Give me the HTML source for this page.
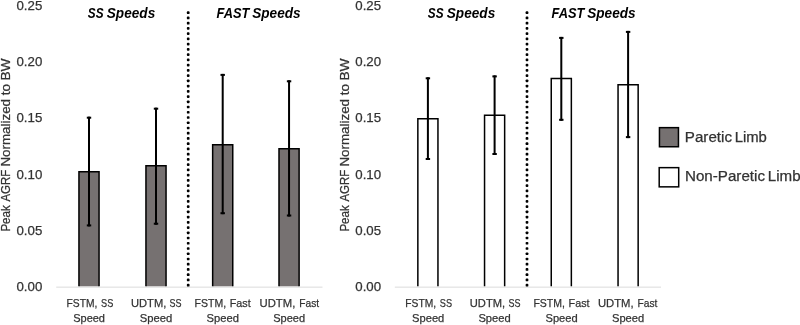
<!DOCTYPE html>
<html><head><meta charset="utf-8"><title>Peak AGRF chart</title>
<style>
html,body{margin:0;padding:0;background:#fff;}
body{width:800px;height:325px;overflow:hidden;}
svg{display:block;font-family:"Liberation Sans", sans-serif;}
text{-webkit-font-smoothing:antialiased;}
svg{will-change:transform;}
.t{fill:#333333;stroke:#333333;stroke-width:0.25px;}
</style></head>
<body>
<svg width="800" height="325" viewBox="0 0 800 325">
<rect width="800" height="325" fill="#fff"/>
<text x="42.3" y="9.6" text-anchor="end" font-size="13" class="t" textLength="25.8" lengthAdjust="spacingAndGlyphs">0.25</text>
<text x="42.3" y="66.0" text-anchor="end" font-size="13" class="t" textLength="25.8" lengthAdjust="spacingAndGlyphs">0.20</text>
<text x="42.3" y="122.2" text-anchor="end" font-size="13" class="t" textLength="25.8" lengthAdjust="spacingAndGlyphs">0.15</text>
<text x="42.3" y="178.6" text-anchor="end" font-size="13" class="t" textLength="25.8" lengthAdjust="spacingAndGlyphs">0.10</text>
<text x="42.3" y="234.9" text-anchor="end" font-size="13" class="t" textLength="25.8" lengthAdjust="spacingAndGlyphs">0.05</text>
<text x="42.3" y="291.3" text-anchor="end" font-size="13" class="t" textLength="25.8" lengthAdjust="spacingAndGlyphs">0.00</text>
<g transform="translate(10.3,0) rotate(-90)" font-size="12.7" class="t">
<text x="-231.60" y="0" textLength="26.30" lengthAdjust="spacingAndGlyphs">Peak</text>
<text x="-201.60" y="0" textLength="31.80" lengthAdjust="spacingAndGlyphs">AGRF</text>
<text x="-166.60" y="0" textLength="67.60" lengthAdjust="spacingAndGlyphs">Normalized</text>
<text x="-95.20" y="0" textLength="11.30" lengthAdjust="spacingAndGlyphs">to</text>
<text x="-80.60" y="0" textLength="22.20" lengthAdjust="spacingAndGlyphs">BW</text>
</g>
<rect x="78.95" y="171.85" width="20.10" height="114.65" fill="#767171"/>
<path d="M78.95 286.5V171.85H99.05V286.5" fill="none" stroke="#000" stroke-width="1.5"/>
<rect x="145.95" y="165.85" width="20.10" height="120.65" fill="#767171"/>
<path d="M145.95 286.5V165.85H166.05V286.5" fill="none" stroke="#000" stroke-width="1.5"/>
<rect x="212.65" y="144.65" width="20.10" height="141.85" fill="#767171"/>
<path d="M212.65 286.5V144.65H232.75V286.5" fill="none" stroke="#000" stroke-width="1.5"/>
<rect x="279.00" y="148.85" width="20.10" height="137.65" fill="#767171"/>
<path d="M279.00 286.5V148.85H299.10V286.5" fill="none" stroke="#000" stroke-width="1.5"/>
<rect x="56.2" y="286.5" width="266.30" height="1.4" fill="#e6e6e6"/>
<rect x="88.00" y="116.70" width="2" height="109.70" fill="#000"/>
<rect x="86.80" y="116.70" width="4.4" height="2" fill="#000"/>
<rect x="86.80" y="224.40" width="4.4" height="2" fill="#000"/>
<rect x="155.00" y="107.70" width="2" height="117.00" fill="#000"/>
<rect x="153.80" y="107.70" width="4.4" height="2" fill="#000"/>
<rect x="153.80" y="222.70" width="4.4" height="2" fill="#000"/>
<rect x="221.70" y="73.90" width="2" height="140.30" fill="#000"/>
<rect x="220.50" y="73.90" width="4.4" height="2" fill="#000"/>
<rect x="220.50" y="212.20" width="4.4" height="2" fill="#000"/>
<rect x="288.05" y="80.30" width="2" height="136.20" fill="#000"/>
<rect x="286.85" y="80.30" width="4.4" height="2" fill="#000"/>
<rect x="286.85" y="214.50" width="4.4" height="2" fill="#000"/>
<rect x="186.85" y="11.35" width="2.7" height="2.7" rx="0.9" fill="#000"/>
<rect x="186.85" y="16.59" width="2.7" height="2.7" rx="0.9" fill="#000"/>
<rect x="186.85" y="21.83" width="2.7" height="2.7" rx="0.9" fill="#000"/>
<rect x="186.85" y="27.07" width="2.7" height="2.7" rx="0.9" fill="#000"/>
<rect x="186.85" y="32.31" width="2.7" height="2.7" rx="0.9" fill="#000"/>
<rect x="186.85" y="37.55" width="2.7" height="2.7" rx="0.9" fill="#000"/>
<rect x="186.85" y="42.79" width="2.7" height="2.7" rx="0.9" fill="#000"/>
<rect x="186.85" y="48.03" width="2.7" height="2.7" rx="0.9" fill="#000"/>
<rect x="186.85" y="53.27" width="2.7" height="2.7" rx="0.9" fill="#000"/>
<rect x="186.85" y="58.51" width="2.7" height="2.7" rx="0.9" fill="#000"/>
<rect x="186.85" y="63.75" width="2.7" height="2.7" rx="0.9" fill="#000"/>
<rect x="186.85" y="68.99" width="2.7" height="2.7" rx="0.9" fill="#000"/>
<rect x="186.85" y="74.23" width="2.7" height="2.7" rx="0.9" fill="#000"/>
<rect x="186.85" y="79.47" width="2.7" height="2.7" rx="0.9" fill="#000"/>
<rect x="186.85" y="84.71" width="2.7" height="2.7" rx="0.9" fill="#000"/>
<rect x="186.85" y="89.95" width="2.7" height="2.7" rx="0.9" fill="#000"/>
<rect x="186.85" y="95.19" width="2.7" height="2.7" rx="0.9" fill="#000"/>
<rect x="186.85" y="100.43" width="2.7" height="2.7" rx="0.9" fill="#000"/>
<rect x="186.85" y="105.67" width="2.7" height="2.7" rx="0.9" fill="#000"/>
<rect x="186.85" y="110.91" width="2.7" height="2.7" rx="0.9" fill="#000"/>
<rect x="186.85" y="116.15" width="2.7" height="2.7" rx="0.9" fill="#000"/>
<rect x="186.85" y="121.39" width="2.7" height="2.7" rx="0.9" fill="#000"/>
<rect x="186.85" y="126.63" width="2.7" height="2.7" rx="0.9" fill="#000"/>
<rect x="186.85" y="131.87" width="2.7" height="2.7" rx="0.9" fill="#000"/>
<rect x="186.85" y="137.11" width="2.7" height="2.7" rx="0.9" fill="#000"/>
<rect x="186.85" y="142.35" width="2.7" height="2.7" rx="0.9" fill="#000"/>
<rect x="186.85" y="147.59" width="2.7" height="2.7" rx="0.9" fill="#000"/>
<rect x="186.85" y="152.83" width="2.7" height="2.7" rx="0.9" fill="#000"/>
<rect x="186.85" y="158.07" width="2.7" height="2.7" rx="0.9" fill="#000"/>
<rect x="186.85" y="163.31" width="2.7" height="2.7" rx="0.9" fill="#000"/>
<rect x="186.85" y="168.55" width="2.7" height="2.7" rx="0.9" fill="#000"/>
<rect x="186.85" y="173.79" width="2.7" height="2.7" rx="0.9" fill="#000"/>
<rect x="186.85" y="179.03" width="2.7" height="2.7" rx="0.9" fill="#000"/>
<rect x="186.85" y="184.27" width="2.7" height="2.7" rx="0.9" fill="#000"/>
<rect x="186.85" y="189.51" width="2.7" height="2.7" rx="0.9" fill="#000"/>
<rect x="186.85" y="194.75" width="2.7" height="2.7" rx="0.9" fill="#000"/>
<rect x="186.85" y="199.99" width="2.7" height="2.7" rx="0.9" fill="#000"/>
<rect x="186.85" y="205.23" width="2.7" height="2.7" rx="0.9" fill="#000"/>
<rect x="186.85" y="210.47" width="2.7" height="2.7" rx="0.9" fill="#000"/>
<rect x="186.85" y="215.71" width="2.7" height="2.7" rx="0.9" fill="#000"/>
<rect x="186.85" y="220.95" width="2.7" height="2.7" rx="0.9" fill="#000"/>
<rect x="186.85" y="226.19" width="2.7" height="2.7" rx="0.9" fill="#000"/>
<rect x="186.85" y="231.43" width="2.7" height="2.7" rx="0.9" fill="#000"/>
<rect x="186.85" y="236.67" width="2.7" height="2.7" rx="0.9" fill="#000"/>
<rect x="186.85" y="241.91" width="2.7" height="2.7" rx="0.9" fill="#000"/>
<rect x="186.85" y="247.15" width="2.7" height="2.7" rx="0.9" fill="#000"/>
<rect x="186.85" y="252.39" width="2.7" height="2.7" rx="0.9" fill="#000"/>
<rect x="186.85" y="257.63" width="2.7" height="2.7" rx="0.9" fill="#000"/>
<rect x="186.85" y="262.87" width="2.7" height="2.7" rx="0.9" fill="#000"/>
<rect x="186.85" y="268.11" width="2.7" height="2.7" rx="0.9" fill="#000"/>
<rect x="186.85" y="273.35" width="2.7" height="2.7" rx="0.9" fill="#000"/>
<rect x="186.85" y="278.59" width="2.7" height="2.7" rx="0.9" fill="#000"/>
<rect x="186.85" y="283.83" width="2.7" height="2.7" rx="0.9" fill="#000"/>
<text x="87.80" y="18.1" font-size="15" font-weight="bold" font-style="italic" fill="#000" textLength="15.70" lengthAdjust="spacingAndGlyphs">SS</text>
<text x="106.80" y="18.1" font-size="15" font-weight="bold" font-style="italic" fill="#000" textLength="48.40" lengthAdjust="spacingAndGlyphs">Speeds</text>
<text x="216.60" y="18.1" font-size="15" font-weight="bold" font-style="italic" fill="#000" textLength="32.80" lengthAdjust="spacingAndGlyphs">FAST</text>
<text x="252.20" y="18.1" font-size="15" font-weight="bold" font-style="italic" fill="#000" textLength="48.40" lengthAdjust="spacingAndGlyphs">Speeds</text>
<text x="82.00" y="307.2" text-anchor="middle" font-size="11.6" class="t" textLength="30.80" lengthAdjust="spacingAndGlyphs">FSTM,</text>
<text x="107.20" y="307.2" text-anchor="middle" font-size="11.6" class="t" textLength="12.20" lengthAdjust="spacingAndGlyphs">SS</text>
<text x="89.10" y="322.2" text-anchor="middle" font-size="11.6" class="t" textLength="31.80" lengthAdjust="spacingAndGlyphs">Speed</text>
<text x="148.65" y="307.2" text-anchor="middle" font-size="11.6" class="t" textLength="35.30" lengthAdjust="spacingAndGlyphs">UDTM,</text>
<text x="175.60" y="307.2" text-anchor="middle" font-size="11.6" class="t" textLength="12.00" lengthAdjust="spacingAndGlyphs">SS</text>
<text x="155.95" y="322.2" text-anchor="middle" font-size="11.6" class="t" textLength="32.50" lengthAdjust="spacingAndGlyphs">Speed</text>
<text x="210.32" y="307.2" text-anchor="middle" font-size="11.6" class="t" textLength="31.45" lengthAdjust="spacingAndGlyphs">FSTM,</text>
<text x="240.22" y="307.2" text-anchor="middle" font-size="11.6" class="t" textLength="20.95" lengthAdjust="spacingAndGlyphs">Fast</text>
<text x="222.80" y="322.2" text-anchor="middle" font-size="11.6" class="t" textLength="32.40" lengthAdjust="spacingAndGlyphs">Speed</text>
<text x="277.45" y="307.2" text-anchor="middle" font-size="11.6" class="t" textLength="35.70" lengthAdjust="spacingAndGlyphs">UDTM,</text>
<text x="309.18" y="307.2" text-anchor="middle" font-size="11.6" class="t" textLength="19.85" lengthAdjust="spacingAndGlyphs">Fast</text>
<text x="289.15" y="322.2" text-anchor="middle" font-size="11.6" class="t" textLength="31.90" lengthAdjust="spacingAndGlyphs">Speed</text>
<text x="381.1" y="9.6" text-anchor="end" font-size="13" class="t" textLength="25.8" lengthAdjust="spacingAndGlyphs">0.25</text>
<text x="381.1" y="66.0" text-anchor="end" font-size="13" class="t" textLength="25.8" lengthAdjust="spacingAndGlyphs">0.20</text>
<text x="381.1" y="122.2" text-anchor="end" font-size="13" class="t" textLength="25.8" lengthAdjust="spacingAndGlyphs">0.15</text>
<text x="381.1" y="178.6" text-anchor="end" font-size="13" class="t" textLength="25.8" lengthAdjust="spacingAndGlyphs">0.10</text>
<text x="381.1" y="234.9" text-anchor="end" font-size="13" class="t" textLength="25.8" lengthAdjust="spacingAndGlyphs">0.05</text>
<text x="381.1" y="291.3" text-anchor="end" font-size="13" class="t" textLength="25.8" lengthAdjust="spacingAndGlyphs">0.00</text>
<g transform="translate(349.1,0) rotate(-90)" font-size="12.7" class="t">
<text x="-231.60" y="0" textLength="26.30" lengthAdjust="spacingAndGlyphs">Peak</text>
<text x="-201.60" y="0" textLength="31.80" lengthAdjust="spacingAndGlyphs">AGRF</text>
<text x="-166.60" y="0" textLength="67.60" lengthAdjust="spacingAndGlyphs">Normalized</text>
<text x="-95.20" y="0" textLength="11.30" lengthAdjust="spacingAndGlyphs">to</text>
<text x="-80.60" y="0" textLength="22.20" lengthAdjust="spacingAndGlyphs">BW</text>
</g>
<rect x="417.85" y="118.75" width="20.10" height="167.75" fill="#ffffff"/>
<path d="M417.85 286.5V118.75H437.95V286.5" fill="none" stroke="#000" stroke-width="1.5"/>
<rect x="484.55" y="115.25" width="20.10" height="171.25" fill="#ffffff"/>
<path d="M484.55 286.5V115.25H504.65V286.5" fill="none" stroke="#000" stroke-width="1.5"/>
<rect x="551.25" y="78.55" width="20.10" height="207.95" fill="#ffffff"/>
<path d="M551.25 286.5V78.55H571.35V286.5" fill="none" stroke="#000" stroke-width="1.5"/>
<rect x="618.05" y="84.85" width="20.10" height="201.65" fill="#ffffff"/>
<path d="M618.05 286.5V84.85H638.15V286.5" fill="none" stroke="#000" stroke-width="1.5"/>
<rect x="394.8" y="286.5" width="266.20" height="1.4" fill="#e6e6e6"/>
<rect x="426.90" y="77.30" width="2" height="82.70" fill="#000"/>
<rect x="425.70" y="77.30" width="4.4" height="2" fill="#000"/>
<rect x="425.70" y="158.00" width="4.4" height="2" fill="#000"/>
<rect x="493.60" y="75.40" width="2" height="79.60" fill="#000"/>
<rect x="492.40" y="75.40" width="4.4" height="2" fill="#000"/>
<rect x="492.40" y="153.00" width="4.4" height="2" fill="#000"/>
<rect x="560.30" y="36.90" width="2" height="83.90" fill="#000"/>
<rect x="559.10" y="36.90" width="4.4" height="2" fill="#000"/>
<rect x="559.10" y="118.80" width="4.4" height="2" fill="#000"/>
<rect x="627.10" y="30.90" width="2" height="107.20" fill="#000"/>
<rect x="625.90" y="30.90" width="4.4" height="2" fill="#000"/>
<rect x="625.90" y="136.10" width="4.4" height="2" fill="#000"/>
<rect x="525.65" y="11.35" width="2.7" height="2.7" rx="0.9" fill="#000"/>
<rect x="525.65" y="16.59" width="2.7" height="2.7" rx="0.9" fill="#000"/>
<rect x="525.65" y="21.83" width="2.7" height="2.7" rx="0.9" fill="#000"/>
<rect x="525.65" y="27.07" width="2.7" height="2.7" rx="0.9" fill="#000"/>
<rect x="525.65" y="32.31" width="2.7" height="2.7" rx="0.9" fill="#000"/>
<rect x="525.65" y="37.55" width="2.7" height="2.7" rx="0.9" fill="#000"/>
<rect x="525.65" y="42.79" width="2.7" height="2.7" rx="0.9" fill="#000"/>
<rect x="525.65" y="48.03" width="2.7" height="2.7" rx="0.9" fill="#000"/>
<rect x="525.65" y="53.27" width="2.7" height="2.7" rx="0.9" fill="#000"/>
<rect x="525.65" y="58.51" width="2.7" height="2.7" rx="0.9" fill="#000"/>
<rect x="525.65" y="63.75" width="2.7" height="2.7" rx="0.9" fill="#000"/>
<rect x="525.65" y="68.99" width="2.7" height="2.7" rx="0.9" fill="#000"/>
<rect x="525.65" y="74.23" width="2.7" height="2.7" rx="0.9" fill="#000"/>
<rect x="525.65" y="79.47" width="2.7" height="2.7" rx="0.9" fill="#000"/>
<rect x="525.65" y="84.71" width="2.7" height="2.7" rx="0.9" fill="#000"/>
<rect x="525.65" y="89.95" width="2.7" height="2.7" rx="0.9" fill="#000"/>
<rect x="525.65" y="95.19" width="2.7" height="2.7" rx="0.9" fill="#000"/>
<rect x="525.65" y="100.43" width="2.7" height="2.7" rx="0.9" fill="#000"/>
<rect x="525.65" y="105.67" width="2.7" height="2.7" rx="0.9" fill="#000"/>
<rect x="525.65" y="110.91" width="2.7" height="2.7" rx="0.9" fill="#000"/>
<rect x="525.65" y="116.15" width="2.7" height="2.7" rx="0.9" fill="#000"/>
<rect x="525.65" y="121.39" width="2.7" height="2.7" rx="0.9" fill="#000"/>
<rect x="525.65" y="126.63" width="2.7" height="2.7" rx="0.9" fill="#000"/>
<rect x="525.65" y="131.87" width="2.7" height="2.7" rx="0.9" fill="#000"/>
<rect x="525.65" y="137.11" width="2.7" height="2.7" rx="0.9" fill="#000"/>
<rect x="525.65" y="142.35" width="2.7" height="2.7" rx="0.9" fill="#000"/>
<rect x="525.65" y="147.59" width="2.7" height="2.7" rx="0.9" fill="#000"/>
<rect x="525.65" y="152.83" width="2.7" height="2.7" rx="0.9" fill="#000"/>
<rect x="525.65" y="158.07" width="2.7" height="2.7" rx="0.9" fill="#000"/>
<rect x="525.65" y="163.31" width="2.7" height="2.7" rx="0.9" fill="#000"/>
<rect x="525.65" y="168.55" width="2.7" height="2.7" rx="0.9" fill="#000"/>
<rect x="525.65" y="173.79" width="2.7" height="2.7" rx="0.9" fill="#000"/>
<rect x="525.65" y="179.03" width="2.7" height="2.7" rx="0.9" fill="#000"/>
<rect x="525.65" y="184.27" width="2.7" height="2.7" rx="0.9" fill="#000"/>
<rect x="525.65" y="189.51" width="2.7" height="2.7" rx="0.9" fill="#000"/>
<rect x="525.65" y="194.75" width="2.7" height="2.7" rx="0.9" fill="#000"/>
<rect x="525.65" y="199.99" width="2.7" height="2.7" rx="0.9" fill="#000"/>
<rect x="525.65" y="205.23" width="2.7" height="2.7" rx="0.9" fill="#000"/>
<rect x="525.65" y="210.47" width="2.7" height="2.7" rx="0.9" fill="#000"/>
<rect x="525.65" y="215.71" width="2.7" height="2.7" rx="0.9" fill="#000"/>
<rect x="525.65" y="220.95" width="2.7" height="2.7" rx="0.9" fill="#000"/>
<rect x="525.65" y="226.19" width="2.7" height="2.7" rx="0.9" fill="#000"/>
<rect x="525.65" y="231.43" width="2.7" height="2.7" rx="0.9" fill="#000"/>
<rect x="525.65" y="236.67" width="2.7" height="2.7" rx="0.9" fill="#000"/>
<rect x="525.65" y="241.91" width="2.7" height="2.7" rx="0.9" fill="#000"/>
<rect x="525.65" y="247.15" width="2.7" height="2.7" rx="0.9" fill="#000"/>
<rect x="525.65" y="252.39" width="2.7" height="2.7" rx="0.9" fill="#000"/>
<rect x="525.65" y="257.63" width="2.7" height="2.7" rx="0.9" fill="#000"/>
<rect x="525.65" y="262.87" width="2.7" height="2.7" rx="0.9" fill="#000"/>
<rect x="525.65" y="268.11" width="2.7" height="2.7" rx="0.9" fill="#000"/>
<rect x="525.65" y="273.35" width="2.7" height="2.7" rx="0.9" fill="#000"/>
<rect x="525.65" y="278.59" width="2.7" height="2.7" rx="0.9" fill="#000"/>
<rect x="525.65" y="283.83" width="2.7" height="2.7" rx="0.9" fill="#000"/>
<text x="427.80" y="17.6" font-size="15" font-weight="bold" font-style="italic" fill="#000" textLength="15.70" lengthAdjust="spacingAndGlyphs">SS</text>
<text x="446.80" y="17.6" font-size="15" font-weight="bold" font-style="italic" fill="#000" textLength="48.40" lengthAdjust="spacingAndGlyphs">Speeds</text>
<text x="551.60" y="17.6" font-size="15" font-weight="bold" font-style="italic" fill="#000" textLength="32.80" lengthAdjust="spacingAndGlyphs">FAST</text>
<text x="587.20" y="17.6" font-size="15" font-weight="bold" font-style="italic" fill="#000" textLength="48.40" lengthAdjust="spacingAndGlyphs">Speeds</text>
<text x="420.70" y="307.2" text-anchor="middle" font-size="11.6" class="t" textLength="30.80" lengthAdjust="spacingAndGlyphs">FSTM,</text>
<text x="445.90" y="307.2" text-anchor="middle" font-size="11.6" class="t" textLength="12.20" lengthAdjust="spacingAndGlyphs">SS</text>
<text x="428.20" y="322.2" text-anchor="middle" font-size="11.6" class="t" textLength="32.20" lengthAdjust="spacingAndGlyphs">Speed</text>
<text x="487.45" y="307.2" text-anchor="middle" font-size="11.6" class="t" textLength="35.30" lengthAdjust="spacingAndGlyphs">UDTM,</text>
<text x="514.40" y="307.2" text-anchor="middle" font-size="11.6" class="t" textLength="12.00" lengthAdjust="spacingAndGlyphs">SS</text>
<text x="494.55" y="322.2" text-anchor="middle" font-size="11.6" class="t" textLength="32.30" lengthAdjust="spacingAndGlyphs">Speed</text>
<text x="549.17" y="307.2" text-anchor="middle" font-size="11.6" class="t" textLength="31.45" lengthAdjust="spacingAndGlyphs">FSTM,</text>
<text x="579.08" y="307.2" text-anchor="middle" font-size="11.6" class="t" textLength="20.95" lengthAdjust="spacingAndGlyphs">Fast</text>
<text x="561.60" y="322.2" text-anchor="middle" font-size="11.6" class="t" textLength="32.20" lengthAdjust="spacingAndGlyphs">Speed</text>
<text x="615.75" y="307.2" text-anchor="middle" font-size="11.6" class="t" textLength="35.70" lengthAdjust="spacingAndGlyphs">UDTM,</text>
<text x="647.48" y="307.2" text-anchor="middle" font-size="11.6" class="t" textLength="19.85" lengthAdjust="spacingAndGlyphs">Fast</text>
<text x="628.10" y="322.2" text-anchor="middle" font-size="11.6" class="t" textLength="32.20" lengthAdjust="spacingAndGlyphs">Speed</text>
<rect x="659.45" y="127.65" width="19" height="19.1" fill="#767171" stroke="#000" stroke-width="1.5"/>
<rect x="659.2" y="167.65" width="19.5" height="19.2" fill="#fff" stroke="#000" stroke-width="1.5"/>
<text x="684.80" y="142.25" font-size="13.8" class="t" textLength="47.20" lengthAdjust="spacingAndGlyphs">Paretic</text>
<text x="734.70" y="142.25" font-size="13.8" class="t" textLength="32.20" lengthAdjust="spacingAndGlyphs">Limb</text>
<text x="685.00" y="181.1" font-size="13.8" class="t" textLength="80.00" lengthAdjust="spacingAndGlyphs">Non-Paretic</text>
<text x="767.80" y="181.1" font-size="13.8" class="t" textLength="32.80" lengthAdjust="spacingAndGlyphs">Limb</text>
</svg>
</body></html>
